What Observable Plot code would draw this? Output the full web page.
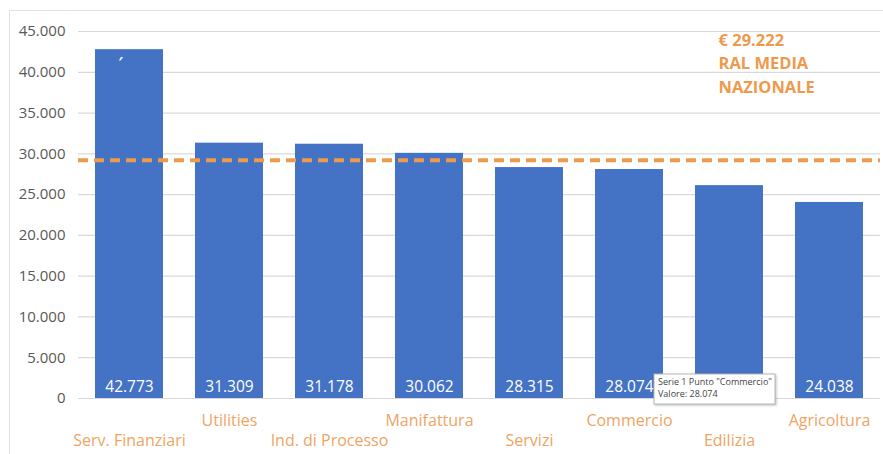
<!DOCTYPE html>
<html>
<head>
<meta charset="utf-8">
<script src="https://cdn.jsdelivr.net/npm/d3@7"></script>
<script src="https://cdn.jsdelivr.net/npm/@observablehq/plot@0.6"></script>
<style>
  html, body { margin: 0; padding: 0; background: #fff; }
  #chart { position: relative; width: 883px; height: 454px; }
  #chart svg { font-family: "Open Sans", "Noto Sans", sans-serif; }
</style>
</head>
<body>
<div id="chart"></div>
<script>
const categories = ["Serv. Finanziari", "Utilities", "Ind. di Processo", "Manifattura", "Servizi", "Commercio", "Edilizia", "Agricoltura"];
const values = [42773, 31309, 31178, 30062, 28315, 28074, 26100, 24038];
const valueLabels = ["42.773", "31.309", "31.178", "30.062", "28.315", "28.074", "", "24.038"];
const labelRow = [1, 0, 1, 0, 1, 0, 1, 0];
const yTicks = [0, 5000, 10000, 15000, 20000, 25000, 30000, 35000, 40000, 45000];
const average = 29222;
const annotationLines = ["€ 29.222", "RAL MEDIA", "NAZIONALE"];
const tooltipLines = ["Serie 1 Punto \"Commercio\"", "Valore: 28.074"];
const tooltipCategory = "Commercio";

const blue = "#4472C4";
const orange = "#EE9A4D";
const labelOrange = "#EFA464";
const grid = "#d9d9d9";

const it = d3.formatLocale({decimal: ",", thousands: ".", grouping: [3], currency: ["€", ""]});
const fmt = it.format(",d");

const data = categories.map((c, i) => ({cat: c, value: values[i], label: valueLabels[i], row: labelRow[i]}));

const plot = Plot.plot({
  width: 883,
  height: 454,
  marginLeft: 78,
  marginRight: 3,
  marginTop: 31,
  marginBottom: 56,
  x: {domain: categories, paddingInner: 0.32, paddingOuter: 0.15, axis: null},
  y: {domain: [0, 45000], ticks: yTicks, tickFormat: fmt},
  marks: [
    Plot.frame({anchor: "left", stroke: "#e3e3e3", insetLeft: -69, insetTop: -21, insetBottom: -56}),
    Plot.frame({anchor: "top", stroke: "#e3e3e3", insetLeft: -69, insetTop: -21, insetRight: -3}),
    Plot.gridY(yTicks, {stroke: grid, strokeOpacity: 1, strokeWidth: 1.2}),
    Plot.axisY({ticks: yTicks, tickFormat: fmt, tickSize: 0, tickPadding: 13, fontSize: 15, fill: "#595959", label: null}),
    Plot.barY(data, {x: "cat", y: "value", fill: blue}),
    Plot.text(data, {x: "cat", y: 0, text: "label", fill: "white", fontSize: 15.5, dy: -11}),
    Plot.text(data.slice(0, 1), {x: "cat", y: "value", text: () => "′", fill: "white", fontSize: 15, fontWeight: "bold", dx: -9, dy: 13}),
    Plot.ruleY([average], {stroke: orange, strokeWidth: 4, strokeDasharray: "10,6"}),
    Plot.text(data.filter(d => d.row === 0), {x: "cat", y: 0, text: "cat", fill: labelOrange, fontSize: 16, dy: 22}),
    Plot.text(data.filter(d => d.row === 1), {x: "cat", y: 0, text: "cat", fill: labelOrange, fontSize: 16, dy: 42}),
    Plot.text([annotationLines.join("\n")], {frameAnchor: "top-right", textAnchor: "start", dx: -162, dy: -3, lineHeight: 1.45, fill: orange, fontSize: 16.5, fontWeight: "bold"}),
    Plot.rect([tooltipCategory], {x: d => d, y1: 0, y2: 0, fill: "white",
      render: (index, scales) => {
        const cx = scales.x(tooltipCategory) + scales.x.bandwidth();
        const y0 = scales.y(0);
        const g = d3.create("svg:g").attr("text-anchor", "start");
        g.append("rect").attr("x", cx - 9).attr("y", y0 - 24).attr("width", 121).attr("height", 30)
          .attr("fill", "white").attr("stroke", "#b8b8b8").style("filter", "drop-shadow(1px 1px 1px rgba(0,0,0,0.25))");
        g.append("text").attr("x", cx - 5).attr("y", y0 - 13).attr("font-size", 9).attr("text-anchor", "start").attr("fill", "#444").text(tooltipLines[0]);
        g.append("text").attr("x", cx - 5).attr("y", y0 - 1).attr("font-size", 9).attr("text-anchor", "start").attr("fill", "#444").text(tooltipLines[1]);
        return g.node();
      }})
  ]
});
document.getElementById("chart").appendChild(plot);
</script>
</body>
</html>
